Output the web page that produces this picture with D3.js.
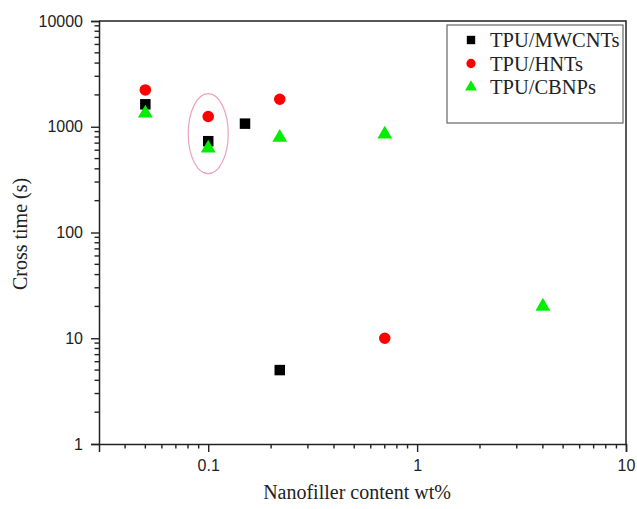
<!DOCTYPE html>
<html>
<head>
<meta charset="utf-8">
<script src="https://cdnjs.cloudflare.com/ajax/libs/d3/7.8.5/d3.min.js"></script>
<style>
  body { margin: 0; background: #fff; }
  svg { display: block; }
</style>
</head>
<body>
<div id="chart"></div>
<script>
// data
const seriesNames = ["TPU/MWCNTs", "TPU/HNTs", "TPU/CBNPs"];
const mwcntX = [0.05, 0.1, 0.15, 0.22];
const mwcntY = [1630, 730, 1070, 5];
const hntX = [0.05, 0.1, 0.22, 0.7];
const hntY = [2230, 1250, 1820, 10];
const cbnpX = [0.05, 0.1, 0.22, 0.7, 4];
const cbnpY = [1340, 625, 790, 850, 20];
const xMajor = [0.1, 1, 10];
const yMajor = [1, 10, 100, 1000, 10000];
// highlighted group (ellipse around x = 0.1)
const noteX = 0.1, noteY = 860;

const width = 637, height = 509;
const margin = {top: 21, right: 11, bottom: 65, left: 99};

const svg = d3.select("#chart").append("svg")
  .attr("width", width)
  .attr("height", height);

const x = d3.scaleLog().domain([0.03, 10]).range([margin.left, width - margin.right]);
const y = d3.scaleLog().domain([1, 10000]).range([height - margin.bottom, margin.top]);

// minor tick values
const minorX = [];
[0.01, 0.1, 1].forEach(d => { for (let k = 2; k <= 9; k++) { const v = d * k; if (v > 0.031 && v < 9.9) minorX.push(v); } });
const minorY = [];
[1, 10, 100, 1000].forEach(d => { for (let k = 2; k <= 9; k++) minorY.push(d * k); });

const axisColor = "#222";
const x0 = x.range()[0], y0 = y.range()[0];

// x axis
svg.append("g")
  .attr("transform", `translate(0, ${y0})`)
  .call(d3.axisBottom(x).tickValues(xMajor).tickSize(8).tickPadding(8).tickFormat(d3.format("")));

// y axis
svg.append("g")
  .attr("transform", `translate(${x0}, 0)`)
  .call(d3.axisLeft(y).tickValues(yMajor).tickSize(8).tickPadding(8).tickFormat(d3.format("")));

// minor ticks
svg.append("g").selectAll("line")
  .data(minorX)
  .enter().append("line")
  .attr("x1", d => x(d)).attr("x2", d => x(d))
  .attr("y1", y0).attr("y2", y0 + 4.5)
  .attr("stroke", axisColor).attr("stroke-width", 1.4);
svg.append("g").selectAll("line")
  .data(minorY)
  .enter().append("line")
  .attr("y1", d => y(d)).attr("y2", d => y(d))
  .attr("x1", x0).attr("x2", x0 - 4.5)
  .attr("stroke", axisColor).attr("stroke-width", 1.4);

svg.selectAll(".tick line").attr("stroke", axisColor).attr("stroke-width", 1.4);
svg.selectAll(".domain").attr("stroke", axisColor).attr("stroke-width", 1.5);
svg.selectAll(".tick text")
  .attr("fill", "#222")
  .style("font-family", "'Liberation Sans', Arial, sans-serif")
  .style("font-size", "16px");

// frame top and right
svg.append("path")
  .attr("d", `M${x0},${y.range()[1]}H${x.range()[1]}V${y0}`)
  .attr("fill", "none")
  .attr("stroke", axisColor)
  .attr("stroke-width", 1.5);

// axis titles
svg.append("text")
  .attr("x", 357)
  .attr("y", 499)
  .attr("text-anchor", "middle")
  .style("font-family", "'Liberation Serif', 'Times New Roman', serif")
  .style("font-size", "20px")
  .attr("fill", "#222")
  .text("Nanofiller content wt%");

svg.append("text")
  .attr("transform", "translate(27, 234) rotate(-90)")
  .attr("text-anchor", "middle")
  .style("font-family", "'Liberation Serif', 'Times New Roman', serif")
  .style("font-size", "20px")
  .attr("fill", "#222")
  .text("Cross time (s)");

// ellipse annotation
svg.append("ellipse")
  .attr("cx", x(noteX))
  .attr("cy", y(noteY))
  .attr("rx", 20)
  .attr("ry", 40)
  .attr("fill", "none")
  .attr("stroke", "#eaa4b6")
  .attr("stroke-width", 1.2);

// markers
const sq = d3.symbol().type(d3.symbolSquare).size(110);
const ci = d3.symbol().type(d3.symbolCircle).size(105);
const tr = d3.symbol().type(d3.symbolTriangle).size(95);

const series = [
  {name: seriesNames[0], xs: mwcntX, ys: mwcntY, color: "#000", sym: sq},
  {name: seriesNames[1], xs: hntX, ys: hntY, color: "#ff0000", sym: ci},
  {name: seriesNames[2], xs: cbnpX, ys: cbnpY, color: "#00ee00", sym: tr}
];

series.forEach(s => {
  svg.append("g").selectAll("path")
    .data(s.xs.map((v, i) => [v, s.ys[i]]))
    .enter()
    .append("path")
    .attr("d", s.sym)
    .attr("transform", d => `translate(${x(d[0])}, ${y(d[1])})`)
    .attr("fill", s.color);
});

// legend
const lg = svg.append("g").attr("transform", "translate(447, 25)");
lg.append("rect")
  .attr("width", 176).attr("height", 98)
  .attr("fill", "#fff")
  .attr("stroke", "#666")
  .attr("stroke-width", 1.2);
series.forEach((s, i) => {
  const row = lg.append("g").attr("transform", `translate(0, ${15 + i * 23.5})`);
  row.append("path")
    .attr("d", s.sym)
    .attr("transform", "translate(24, 0) scale(0.8)")
    .attr("fill", s.color);
  row.append("text")
    .attr("x", 43)
    .attr("y", 7)
    .style("font-family", "'Liberation Serif', 'Times New Roman', serif")
    .style("font-size", "20.5px")
    .attr("fill", "#222")
    .text(s.name);
});
</script>
</body>
</html>
